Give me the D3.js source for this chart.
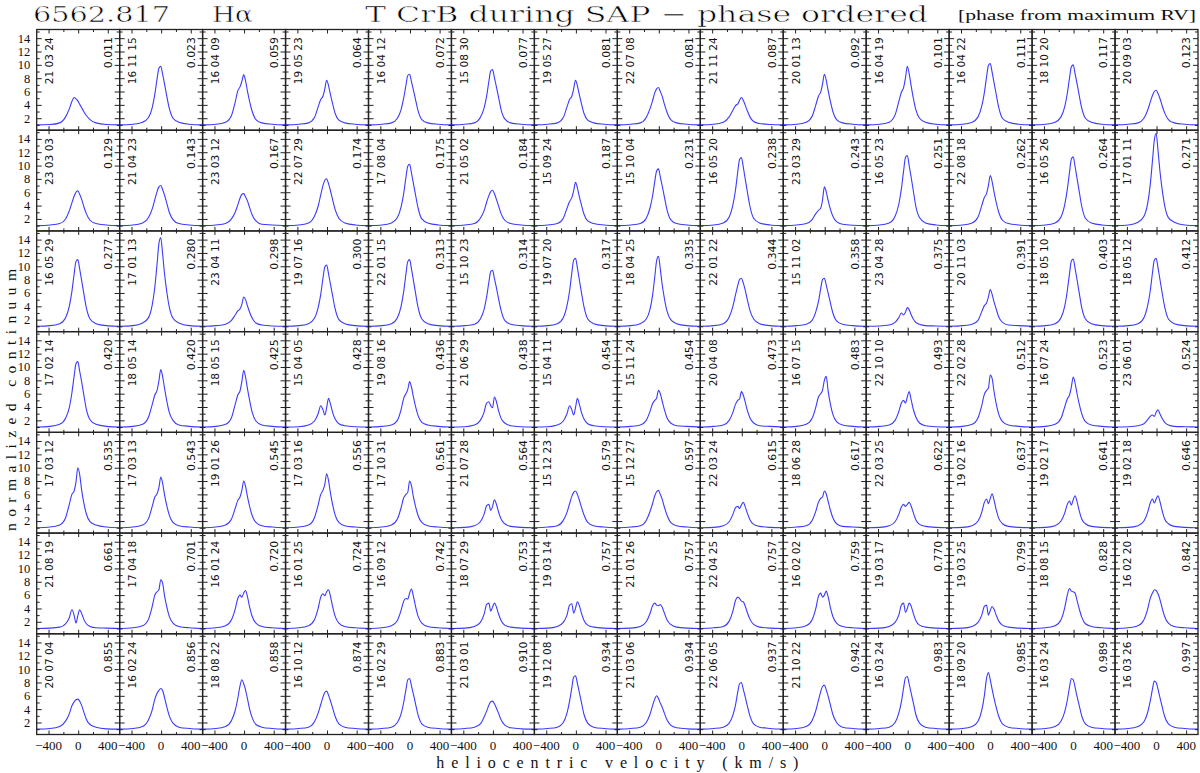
<!DOCTYPE html>
<html><head><meta charset="utf-8">
<script src="https://cdn.jsdelivr.net/npm/d3@7"></script>
<style>body{margin:0;background:#fff}</style>
</head><body>
<svg id="c" width="1200" height="773"></svg>
<script>
// velocity grid (km/s) at which each profile is sampled
const velocityGrid = [-560,-380,-250,-170,-120,-85,-55,-30,-5,20,45,75,110,160,240,380,560];

const dates = [
"21 03 24","16 11 15","16 04 09","19 05 23","16 04 12","15 08 30","19 05 27","22 07 08","21 11 24","20 01 13","16 04 19","16 04 22","18 10 20","20 09 03",
"23 03 03","21 04 23","23 03 12","22 07 29","17 08 04","21 05 02","15 09 24","15 10 04","16 05 20","23 03 29","16 05 23","22 08 18","16 05 26","17 01 11",
"16 05 29","17 01 13","23 04 11","19 07 16","22 01 15","15 10 23","19 07 20","18 04 25","22 01 22","15 11 02","23 04 28","20 11 03","18 05 10","18 05 12",
"17 02 14","18 05 14","18 05 15","15 04 05","19 08 16","21 06 29","15 04 11","15 11 24","20 04 08","16 07 15","22 10 10","22 02 28","16 07 24","23 06 01",
"17 03 12","17 03 13","19 01 26","17 03 16","17 10 31","21 07 28","15 12 23","15 12 27","22 03 24","18 06 28","22 03 25","19 02 16","19 02 17","19 02 18",
"21 08 19","17 04 18","16 01 24","16 01 25","16 09 12","18 07 29","19 03 14","21 01 26","22 04 25","16 02 02","19 03 17","19 03 25","18 08 15","16 02 20",
"20 07 04","16 02 24","18 08 22","16 10 12","16 02 29","21 03 01","19 12 08","21 03 06","22 06 05","21 10 22","16 03 24","18 09 20","16 03 24","16 03 26"];

const phases = [
"0.011","0.023","0.059","0.064","0.072","0.077","0.081","0.081","0.087","0.092","0.101","0.111","0.117","0.123",
"0.129","0.143","0.167","0.174","0.175","0.184","0.187","0.231","0.238","0.243","0.251","0.262","0.264","0.271",
"0.277","0.280","0.298","0.300","0.313","0.314","0.317","0.335","0.344","0.358","0.375","0.391","0.403","0.412",
"0.420","0.420","0.425","0.428","0.436","0.438","0.454","0.454","0.473","0.483","0.493","0.512","0.523","0.524",
"0.535","0.543","0.545","0.556","0.561","0.564","0.579","0.597","0.615","0.617","0.622","0.637","0.641","0.646",
"0.661","0.701","0.720","0.724","0.742","0.753","0.757","0.757","0.757","0.759","0.770","0.799","0.828","0.842",
"0.855","0.856","0.858","0.874","0.883","0.910","0.934","0.934","0.937","0.942","0.983","0.985","0.989","0.997"];

// normalized flux at velocityGrid for each panel (row-major)
const profiles = [
// row 1
[1,1.05,1.3,2.2,3.4,4.5,5.1,4.9,4.6,4.1,3.6,3.0,2.4,1.8,1.3,1.05,1],
[1,1.1,1.4,2.1,3.6,5.6,7.9,9.5,9.8,8.6,7.2,5.4,3.5,2.0,1.4,1.1,1],
[1,1.1,1.4,2.4,4.4,6.1,6.7,7.5,8.5,7.6,6.1,4.5,3.0,1.8,1.3,1.1,1],
[1,1.1,1.3,2.1,3.7,4.8,5.3,6.4,7.7,6.9,5.6,4.2,2.7,1.7,1.3,1.1,1],
[1,1.1,1.3,2.0,3.3,5.0,6.9,8.4,8.6,7.5,6.3,4.8,3.1,1.8,1.3,1.1,1],
[1,1.1,1.3,2.1,3.5,5.3,7.5,9.1,9.3,8.1,6.8,5.2,3.3,1.9,1.3,1.1,1],
[1,1.1,1.3,2.1,3.7,4.8,5.3,6.4,7.7,6.9,5.6,4.2,2.7,1.7,1.3,1.1,1],
[1,1.1,1.3,2.1,3.4,4.6,5.8,6.4,6.6,6.0,5.3,4.1,2.9,1.8,1.3,1.1,1],
[1,1.1,1.4,2.2,3.2,3.9,4.1,4.7,5.1,4.7,4.0,3.1,2.2,1.5,1.2,1.05,1],
[1,1.1,1.4,2.3,4.0,5.3,5.9,7.1,8.6,7.7,6.2,4.6,3.0,1.8,1.3,1.1,1],
[1,1.1,1.4,2.5,4.5,5.9,6.6,8.0,9.8,8.7,7.0,5.1,3.3,2.0,1.4,1.1,1],
[1,1.1,1.4,2.2,3.8,5.8,8.2,9.9,10.2,8.9,7.4,5.6,3.6,2.0,1.4,1.1,1],
[1,1.1,1.4,2.2,3.7,5.7,8.0,9.7,10.0,8.7,7.3,5.5,3.5,2.0,1.4,1.1,1],
[1,1.1,1.3,2.0,3.2,4.4,5.4,6.0,6.2,5.7,5.0,3.9,2.8,1.8,1.3,1.1,1],
// row 2
[1,1.1,1.3,2.0,3.2,4.4,5.4,6.0,6.2,5.7,5.0,3.9,2.8,1.8,1.3,1.1,1],
[1,1.1,1.4,2.2,3.5,4.9,6.1,6.8,7.0,6.4,5.6,4.4,3.0,1.9,1.3,1.1,1],
[1,1.1,1.3,2.0,3.0,4.1,5.1,5.7,5.8,5.3,4.7,3.7,2.6,1.7,1.2,1.1,1],
[1,1.1,1.4,2.4,3.9,5.6,7.0,7.8,8.0,7.3,6.3,4.9,3.4,2.1,1.4,1.1,1],
[1,1.1,1.4,2.2,3.8,5.8,8.2,9.9,10.2,8.9,7.4,5.6,3.6,2.0,1.4,1.1,1],
[1,1.1,1.3,2.1,3.2,4.5,5.5,6.1,6.3,5.8,5.0,4.0,2.8,1.8,1.3,1.1,1],
[1,1.1,1.3,2.1,3.6,4.6,5.2,6.2,7.5,6.7,5.4,4.1,2.7,1.7,1.3,1.1,1],
[1,1.1,1.3,2.1,3.6,5.4,7.6,9.2,9.5,8.3,7.0,5.3,3.4,1.9,1.3,1.1,1],
[1,1.1,1.4,2.3,4.1,6.3,9.0,10.9,11.2,9.8,8.1,6.1,3.9,2.1,1.4,1.1,1],
[1,1.1,1.3,1.9,2.8,3.3,3.6,4.8,6.8,6.1,4.8,3.5,2.4,1.6,1.2,1.05,1],
[1,1.1,1.4,2.4,4.2,6.5,9.2,11.2,11.5,10.0,8.4,6.3,3.9,2.2,1.4,1.1,1],
[1,1.1,1.4,2.3,4.0,5.2,5.8,7.0,8.5,7.6,6.1,4.5,3.0,1.8,1.3,1.1,1],
[1,1.1,1.4,2.3,4.1,6.4,9.0,11.0,11.3,9.9,8.2,6.2,3.9,2.1,1.4,1.1,1],
[1,1.1,1.5,2.4,4.3,7.1,10.7,13.8,14.8,12.3,9.3,6.5,4.0,2.2,1.5,1.1,1],
// row 3
[1,1.1,1.4,2.3,4.0,6.2,8.8,10.7,11.0,9.6,8.0,6.0,3.8,2.1,1.4,1.1,1],
[1,1.1,1.5,2.3,4.2,6.9,10.3,13.4,14.3,11.9,9.0,6.3,3.9,2.2,1.5,1.1,1],
[1,1.1,1.3,1.9,2.7,3.3,3.6,4.3,5.4,5.0,4.1,3.1,2.2,1.5,1.2,1.05,1],
[1,1.1,1.4,2.2,3.8,5.8,8.2,9.9,10.2,8.9,7.4,5.6,3.6,2.0,1.4,1.1,1],
[1,1.1,1.4,2.3,4.0,6.2,8.8,10.7,11.0,9.6,8.0,6.0,3.8,2.1,1.4,1.1,1],
[1,1.1,1.3,2.1,3.5,5.4,7.6,9.2,9.4,8.2,6.9,5.2,3.4,1.9,1.3,1.1,1],
[1,1.1,1.4,2.3,4.1,6.3,9.0,10.9,11.2,9.8,8.1,6.1,3.9,2.1,1.4,1.1,1],
[1,1.1,1.4,2.1,3.5,5.6,8.4,10.8,11.5,9.6,7.3,5.2,3.3,2.0,1.4,1.1,1],
[1,1.1,1.4,2.4,4.0,5.7,7.1,8.0,8.2,7.5,6.5,5.0,3.4,2.1,1.4,1.1,1],
[1,1.1,1.3,1.9,3.2,4.7,6.6,8.0,8.2,7.2,6.0,4.6,3.0,1.8,1.3,1.1,1],
[1,1.05,1.2,1.6,2.3,3.0,2.7,3.1,3.8,3.5,2.8,2.1,1.6,1.3,1.1,1.05,1],
[1,1.1,1.3,1.9,3.2,4.1,4.5,5.4,6.5,5.8,4.7,3.6,2.4,1.6,1.2,1.1,1],
[1,1.1,1.4,2.3,4.0,6.3,8.9,10.8,11.1,9.7,8.1,6.1,3.8,2.1,1.4,1.1,1],
[1,1.1,1.4,2.3,4.1,6.3,9.0,10.9,11.2,9.8,8.1,6.1,3.9,2.1,1.4,1.1,1],
// row 4
[1,1.1,1.4,2.3,3.9,6.1,8.6,10.5,10.8,9.4,7.9,5.9,3.7,2.1,1.4,1.1,1],
[1,1.1,1.4,2.5,4.4,5.8,6.5,7.9,9.6,8.6,6.9,5.0,3.2,2.0,1.3,1.1,1],
[1,1.1,1.4,2.4,4.4,5.8,6.4,7.8,9.5,8.5,6.8,5.0,3.2,1.9,1.3,1.1,1],
[1,1.05,1.3,1.9,3.0,4.2,3.6,2.8,3.9,5.3,4.5,3.2,2.2,1.5,1.2,1.05,1],
[1,1.1,1.3,2.0,3.6,5.3,6.0,6.6,7.8,7.0,5.6,4.1,2.7,1.7,1.3,1.1,1],
[1,1.05,1.3,2.0,3.2,4.6,4.8,4.2,3.9,5.5,4.9,3.5,2.3,1.6,1.2,1.05,1],
[1,1.05,1.3,1.9,3.0,4.2,3.6,2.8,3.9,5.3,4.5,3.2,2.2,1.5,1.2,1.05,1],
[1,1.1,1.3,2.0,3.3,4.5,5.0,5.3,6.5,6.0,4.9,3.6,2.4,1.6,1.2,1.1,1],
[1,1.1,1.3,2.0,3.2,4.4,5.0,5.2,6.3,5.8,4.8,3.5,2.4,1.6,1.2,1.1,1],
[1,1.1,1.4,2.3,4.0,5.5,6.0,6.5,8.0,8.6,6.5,4.5,2.9,1.8,1.3,1.1,1],
[1,1.1,1.3,2.0,3.3,4.6,5.0,4.6,5.5,6.3,5.2,3.7,2.5,1.6,1.2,1.05,1],
[1,1.1,1.4,2.4,4.2,5.9,6.5,6.8,8.8,8.3,6.4,4.5,2.9,1.8,1.3,1.1,1],
[1,1.1,1.4,2.3,4.0,5.2,5.8,7.0,8.5,7.6,6.1,4.5,3.0,1.8,1.3,1.1,1],
[1,1.05,1.2,1.5,2.1,2.6,2.8,2.6,3.2,3.6,3.0,2.3,1.7,1.3,1.1,1.05,1],
// row 5
[1,1.1,1.4,2.5,4.5,6.0,6.5,7.8,10.0,9.0,6.8,4.8,3.1,1.9,1.4,1.1,1],
[1,1.1,1.4,2.4,4.2,5.6,6.1,7.0,8.6,7.7,6.0,4.4,2.9,1.8,1.3,1.1,1],
[1,1.1,1.4,2.3,3.9,5.1,5.6,6.6,8.0,7.2,5.7,4.2,2.8,1.8,1.3,1.1,1],
[1,1.1,1.4,2.5,4.4,6.0,6.6,7.5,9.1,8.1,6.3,4.5,2.9,1.8,1.3,1.1,1],
[1,1.1,1.4,2.3,4.0,5.5,6.0,6.3,8.0,7.3,5.7,4.2,2.8,1.8,1.3,1.1,1],
[1,1.05,1.3,1.9,3.0,4.3,4.5,3.6,4.2,5.2,4.6,3.4,2.3,1.6,1.2,1.05,1],
[1,1.1,1.3,2.1,3.3,4.6,5.7,6.3,6.5,6.0,5.2,4.1,2.9,1.8,1.3,1.1,1],
[1,1.1,1.3,2.1,3.4,4.6,5.8,6.4,6.6,6.0,5.3,4.1,2.9,1.8,1.3,1.1,1],
[1,1.05,1.3,1.9,3.0,4.0,4.2,3.9,4.4,4.8,4.2,3.2,2.2,1.5,1.2,1.05,1],
[1,1.1,1.3,2.1,3.5,4.8,5.4,5.6,6.5,6.1,5.0,3.7,2.5,1.6,1.2,1.1,1],
[1,1.05,1.3,1.9,3.0,4.1,4.5,4.2,4.5,4.8,4.3,3.3,2.2,1.5,1.2,1.05,1],
[1,1.05,1.3,2.0,3.3,4.8,5.3,4.6,5.4,6.1,5.2,3.7,2.4,1.6,1.2,1.05,1],
[1,1.05,1.3,2.0,3.2,4.5,5.0,4.4,5.2,5.8,5.0,3.6,2.3,1.6,1.2,1.05,1],
[1,1.05,1.3,2.0,3.3,4.7,5.3,4.7,5.3,5.8,5.0,3.6,2.3,1.6,1.2,1.05,1],
// row 6
[1,1.05,1.2,1.7,2.6,3.8,3.0,1.8,2.9,3.8,3.3,2.4,1.7,1.3,1.1,1.05,1],
[1,1.1,1.4,2.4,4.3,6.0,6.5,6.8,8.3,7.8,6.0,4.3,2.8,1.8,1.3,1.1,1],
[1,1.1,1.4,2.3,3.9,5.5,6.0,5.7,6.3,6.7,5.8,4.2,2.8,1.8,1.3,1.1,1],
[1,1.1,1.4,2.3,4.0,5.7,6.2,5.9,6.5,6.8,5.9,4.3,2.8,1.8,1.3,1.1,1],
[1,1.1,1.4,2.2,3.7,5.1,5.5,5.4,6.3,6.9,5.9,4.3,2.8,1.8,1.3,1.1,1],
[1,1.05,1.3,1.9,3.1,4.6,4.8,3.6,4.2,4.8,4.3,3.2,2.2,1.5,1.2,1.05,1],
[1,1.05,1.3,1.9,3.0,4.5,4.7,3.3,4.0,5.0,4.5,3.3,2.2,1.5,1.2,1.05,1],
[1,1.05,1.3,2.0,3.2,4.4,4.8,4.5,4.4,4.6,4.2,3.3,2.3,1.6,1.2,1.05,1],
[1,1.1,1.3,2.1,3.6,5.2,5.7,5.5,5.1,5.0,4.4,3.4,2.4,1.6,1.2,1.05,1],
[1,1.1,1.4,2.3,4.0,5.8,6.3,5.7,6.0,6.6,5.8,4.2,2.8,1.8,1.3,1.1,1],
[1,1.05,1.3,1.9,3.0,4.5,4.8,3.4,4.0,4.8,4.4,3.3,2.2,1.5,1.2,1.05,1],
[1,1.05,1.3,1.9,3.0,4.3,4.5,3.0,3.7,4.3,3.9,3.0,2.1,1.5,1.2,1.05,1],
[1,1.1,1.4,2.3,4.1,6.0,7.0,6.6,6.5,6.3,5.3,4.0,2.7,1.7,1.3,1.1,1],
[1,1.1,1.4,2.3,3.9,5.5,6.3,6.8,6.7,6.2,5.4,4.1,2.8,1.8,1.3,1.1,1],
// row 7
[1,1.1,1.4,2.2,3.3,4.5,5.1,5.4,5.5,5.2,4.6,3.6,2.5,1.7,1.3,1.05,1],
[1,1.1,1.4,2.4,3.9,5.5,6.4,6.8,7.1,6.8,5.8,4.4,3.0,1.9,1.3,1.1,1],
[1,1.1,1.4,2.3,3.8,5.6,7.5,8.4,7.8,6.9,5.6,4.0,2.7,1.7,1.3,1.1,1],
[1,1.1,1.3,2.1,3.4,4.7,5.8,6.5,6.7,6.1,5.3,4.2,2.9,1.8,1.3,1.1,1],
[1,1.1,1.3,2.0,3.3,5.0,6.9,8.4,8.6,7.5,6.3,4.8,3.1,1.8,1.3,1.1,1],
[1,1.1,1.3,1.8,2.8,3.7,4.6,5.1,5.2,4.8,4.2,3.4,2.4,1.6,1.2,1.05,1],
[1,1.1,1.3,2.0,3.4,5.2,7.2,8.8,9.0,7.9,6.6,5.0,3.2,1.9,1.3,1.1,1],
[1,1.1,1.3,2.0,3.2,4.5,5.5,6.0,5.6,4.9,4.3,3.4,2.4,1.6,1.2,1.05,1],
[1,1.1,1.3,1.9,3.1,4.6,6.5,7.8,8.0,7.0,5.9,4.5,3.0,1.8,1.3,1.1,1],
[1,1.1,1.4,2.3,3.8,5.3,6.6,7.4,7.6,6.9,6.0,4.7,3.2,2.0,1.3,1.1,1],
[1,1.1,1.3,2.0,3.4,5.1,7.2,8.7,8.9,7.8,6.5,5.0,3.2,1.9,1.3,1.1,1],
[1,1.1,1.4,2.2,3.8,6.0,8.6,9.5,8.4,7.0,5.7,4.3,2.9,1.8,1.3,1.1,1],
[1,1.1,1.4,2.2,3.6,5.3,7.3,8.6,8.4,7.3,6.0,4.6,3.0,1.8,1.3,1.1,1],
[1,1.1,1.4,2.1,3.5,5.2,7.0,8.2,8.0,7.0,5.8,4.4,2.9,1.8,1.3,1.1,1]
];

const yTickLabels = [2,4,6,8,10,12,14];
const yMinorTicks = [1,3,5,7,9,11,13,15];
const xTickLabels = [-400,0,400];
const xMinorTicks = [-200,200];

const svg = d3.select("#c");
const plotLeft = 36.7, plotRight = 1198, plotTop = 29.5, plotBottom = 734.5;
const nCol = 14, nRow = 7;

const colScale = d3.scaleBand().domain(d3.range(nCol)).range([plotLeft, plotRight]).padding(0);
const rowScale = d3.scaleBand().domain(d3.range(nRow)).range([plotTop, plotBottom]).padding(0);
const pw = colScale.bandwidth(), ph = rowScale.bandwidth();
const xs = d3.scaleLinear().domain([-560, 560]).range([0, pw]);
const ys = d3.scaleLinear().domain([0.2, 15.3]).range([ph, 0]);

const line = d3.line()
  .x((d, i) => xs(velocityGrid[i]))
  .y(d => ys(d))
  .curve(d3.curveMonotoneX);

const frameColor = "#222";
const tickFont = "'Liberation Serif', serif";

profiles.forEach((prof, k) => {
  const r = Math.floor(k / nCol), c = k % nCol;
  const g = svg.append("g").attr("transform", `translate(${colScale(c)},${rowScale(r)})`);

  g.append("path").attr("d", line(prof))
    .attr("fill", "none").attr("stroke", "#3b3bff").attr("stroke-width", 1.1);

  const ax = [
    {a: d3.axisBottom(xs).tickValues(xTickLabels).tickSize(4), t: `translate(0,0)`},
    {a: d3.axisBottom(xs).tickValues(xMinorTicks).tickSize(2.5), t: `translate(0,0)`},
    {a: d3.axisTop(xs).tickValues(xTickLabels).tickSize(4), t: `translate(0,${ph})`},
    {a: d3.axisTop(xs).tickValues(xMinorTicks).tickSize(2.5), t: `translate(0,${ph})`},
    {a: d3.axisRight(ys).tickValues(yTickLabels).tickSize(5), t: `translate(0,0)`},
    {a: d3.axisRight(ys).tickValues(yMinorTicks).tickSize(3), t: `translate(0,0)`},
    {a: d3.axisLeft(ys).tickValues(yTickLabels).tickSize(5), t: `translate(${pw},0)`},
    {a: d3.axisLeft(ys).tickValues(yMinorTicks).tickSize(3), t: `translate(${pw},0)`}
  ];
  ax.forEach(o => {
    const ag = g.append("g").attr("transform", o.t).call(o.a.tickSizeOuter(0).tickFormat(""));
    ag.select(".domain").remove();
    ag.selectAll("line").attr("stroke", frameColor).attr("stroke-width", 1);
  });

  g.append("rect").attr("x", 0).attr("y", 0).attr("width", pw).attr("height", ph)
    .attr("fill", "none").attr("stroke", frameColor).attr("stroke-width", 1.3);

  g.append("text").attr("transform", `translate(16.3,7.7) rotate(-90)`)
    .attr("text-anchor", "end").attr("font-family", "'DejaVu Sans', sans-serif")
    .attr("font-size", 11).attr("fill", "#111")
    .attr("textLength", 47).attr("lengthAdjust", "spacingAndGlyphs")
    .text(dates[k]);
  g.append("text").attr("transform", `translate(${pw - 7.6},7.7) rotate(-90)`)
    .attr("text-anchor", "end").attr("font-family", "'DejaVu Sans', sans-serif")
    .attr("font-size", 11).attr("fill", "#111")
    .attr("textLength", 31).attr("lengthAdjust", "spacingAndGlyphs")
    .text(phases[k]);

  if (c === 0) {
    g.selectAll(".ylab").data(yTickLabels).enter().append("text")
      .attr("x", -6.5).attr("y", d => ys(d)).attr("dy", "0.35em")
      .attr("text-anchor", "end").attr("font-family", tickFont)
      .attr("font-size", 12.5).attr("fill", "#111")
      .text(d => d);
  }
  if (r === nRow - 1) {
    g.selectAll(".xlab").data(xTickLabels).enter().append("text")
      .attr("x", d => xs(d)).attr("y", ph + 15.5)
      .attr("text-anchor", "middle").attr("font-family", tickFont)
      .attr("font-size", 13).attr("fill", "#111")
      .text(d => d < 0 ? "\u2212" + Math.abs(d) : d);
  }
});

// titles: thin serif look (a thin white stroke slightly erodes the glyphs)
const titleFont = "'DejaVu Serif', serif";
function thinText(sel, w) {
  return sel.attr("fill", "#000").attr("stroke", "#fff").attr("stroke-width", w)
    .attr("stroke-linejoin", "round");
}
thinText(svg.append("text").attr("x", 33).attr("y", 21.6).attr("font-family", titleFont)
  .attr("font-size", 23).attr("textLength", 137).attr("lengthAdjust", "spacingAndGlyphs")
  .text("6562.817"), 0.6);
thinText(svg.append("text").attr("x", 212).attr("y", 21.6).attr("font-family", titleFont)
  .attr("font-size", 23).attr("textLength", 41).attr("lengthAdjust", "spacingAndGlyphs")
  .text("H\u03b1"), 0.6);
thinText(svg.append("text").attr("x", 365).attr("y", 21.6).attr("font-family", titleFont)
  .attr("font-size", 23).attr("textLength", 563).attr("lengthAdjust", "spacingAndGlyphs")
  .text("T CrB during SAP \u2212 phase ordered"), 0.6);
svg.append("text").attr("x", 958).attr("y", 19.5).attr("font-family", "'Liberation Serif', serif")
  .attr("font-size", 14).attr("fill", "#111")
  .attr("textLength", 238).attr("lengthAdjust", "spacingAndGlyphs")
  .text("[phase from maximum RV]");

// axis titles
svg.append("text").attr("x", (plotLeft + plotRight) / 2).attr("y", 768).attr("text-anchor", "middle")
  .attr("font-family", "'Liberation Serif', serif").attr("font-size", 16).attr("fill", "#111")
  .attr("textLength", 362).attr("lengthAdjust", "spacing").text("heliocentric velocity (km/s)");
svg.append("text").attr("transform", `translate(15.5,400) rotate(-90)`)
  .attr("text-anchor", "middle")
  .attr("font-family", "'Liberation Serif', serif").attr("font-size", 15.5).attr("fill", "#111")
  .attr("textLength", 262).attr("lengthAdjust", "spacing").text("normalized continuum");
</script>
</body></html>
